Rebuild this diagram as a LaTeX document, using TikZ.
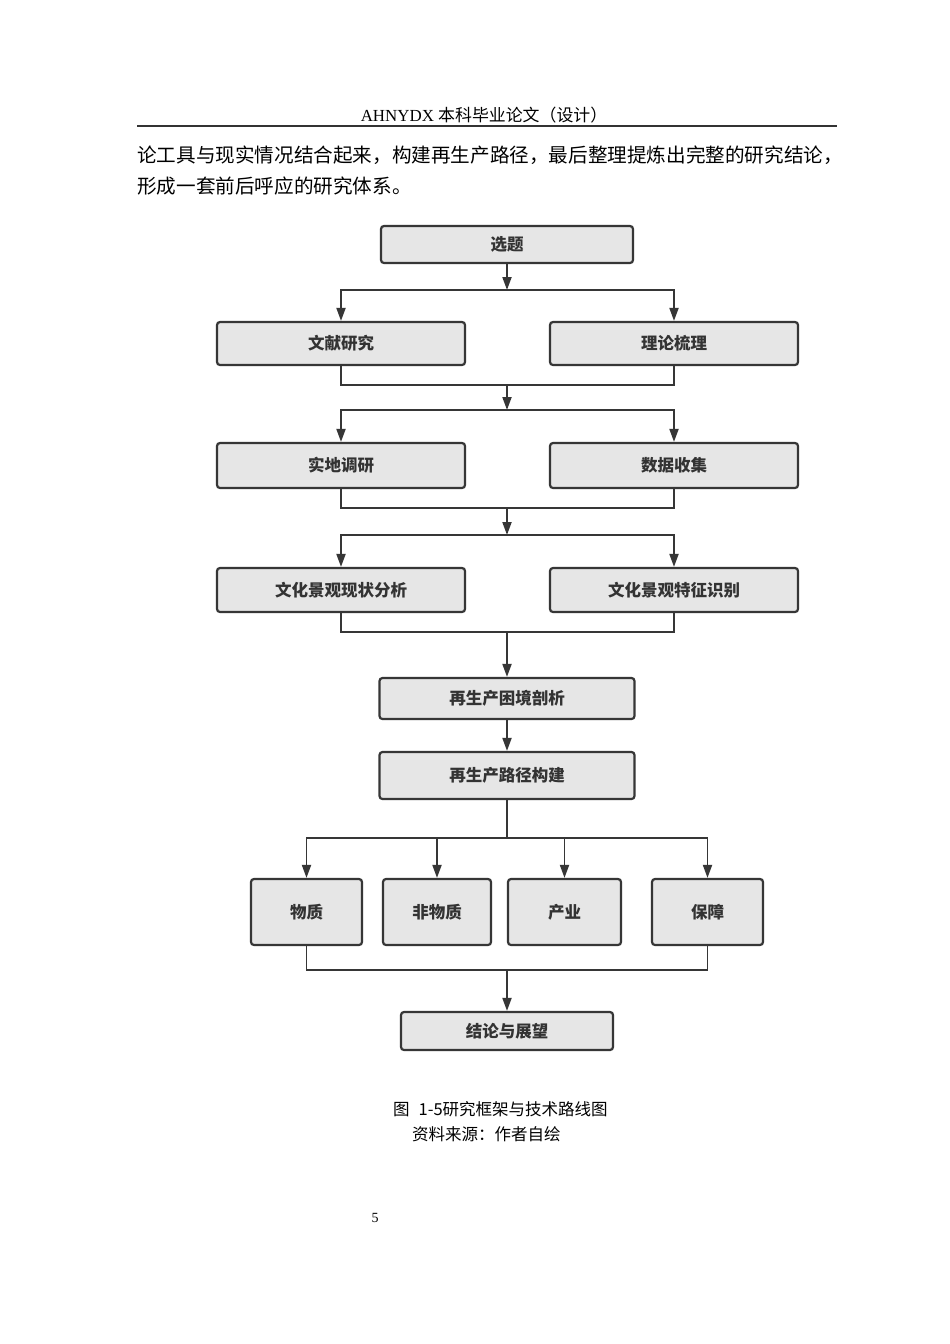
\documentclass[tikz,border=0pt]{standalone}
\usepackage{fontspec}
\setmainfont{Liberation Serif}
\newfontfamily\cjk{Noto Sans CJK SC}
\usepackage{xcolor}
\usetikzlibrary{arrows.meta,positioning,calc}
\definecolor{boxfill}{HTML}{E6E6E6}
\definecolor{boxline}{HTML}{363636}
\definecolor{txtgray}{HTML}{333333}
\tikzset{
  flowbox/.style={draw=boxline, line width=2.2pt, fill=boxfill, rounded corners=3pt,
    inner sep=0pt, text=txtgray, font=\cjk\bfseries\fontsize{16.5}{18}\selectfont},
  link/.style={draw=boxline, line width=1.9pt},
  arr/.style={link, -{Triangle[length=13pt,width=9pt]}}
}

\begin{document}
\begin{tikzpicture}[x=1pt,y=-1pt]
    \useasboundingbox[fill=white] (0,0) rectangle (950,1344);
    % page header and text
    \node[anchor=base] (header) at (484,121) {\fontsize{16.9}{18}\selectfont AHNYDX {\cjk 本科毕业论文（设计）}};
    \draw[line width=1.5pt, black!80] (137,126) -- (837,126);
    \node[anchor=base west, inner sep=0pt] (line1) at (137,162) {\cjk\fontsize{19.6}{21}\selectfont 论工具与现实情况结合起来，构建再生产路径，最后整理提炼出完整的研究结论，};
    \node[anchor=base west, inner sep=0pt] (line2) at (137,193) {\cjk\fontsize{19.6}{21}\selectfont 形成一套前后呼应的研究体系。};

    % boxes
    \node[flowbox, minimum width=252pt, minimum height=37pt] (xuanti) at (507,244.5) {选题};
    \node[flowbox, minimum width=248pt, minimum height=43pt] (wenxian) at (341,343.5) {文献研究};
    \node[flowbox, minimum width=248pt, minimum height=43pt] (lilun) at (674,343.5) {理论梳理};
    \node[flowbox, minimum width=248pt, minimum height=45pt] (shidi) at (341,465.5) {实地调研};
    \node[flowbox, minimum width=248pt, minimum height=45pt] (shuju) at (674,465.5) {数据收集};
    \node[flowbox, minimum width=248pt, minimum height=44pt] (xianzhuang) at (341,590) {文化景观现状分析};
    \node[flowbox, minimum width=248pt, minimum height=44pt] (tezheng) at (674,590) {文化景观特征识别};
    \node[flowbox, minimum width=255pt, minimum height=41pt] (kunjing) at (507,698.5) {再生产困境剖析};
    \node[flowbox, minimum width=255pt, minimum height=47pt] (lujing) at (507,775.5) {再生产路径构建};
    \node[flowbox, minimum width=111pt, minimum height=66pt] (wuzhi) at (306.5,912) {物质};
    \node[flowbox, minimum width=108pt, minimum height=66pt] (feiwuzhi) at (437,912) {非物质};
    \node[flowbox, minimum width=113pt, minimum height=66pt] (chanye) at (564.5,912) {产业};
    \node[flowbox, minimum width=111pt, minimum height=66pt] (baozhang) at (707.5,912) {保障};
    \node[flowbox, minimum width=212pt, minimum height=38pt] (jielun) at (507,1031) {结论与展望};

    % junctions
    \coordinate (j1) at (507,290);
    \coordinate (m1) at (507,385);
    \coordinate (j2) at (507,410);
    \coordinate (m2) at (507,508);
    \coordinate (j3) at (507,535);
    \coordinate (m3) at (507,632);
    \coordinate (j4) at (507,838);
    \coordinate (m4) at (507,970);

    % connectors
    \draw[arr] (xuanti) -- (j1);
    \draw[arr] (j1) -| (wenxian);
    \draw[arr] (j1) -| (lilun);
    \draw[link] (wenxian) |- (m1) -| (lilun);
    \draw[arr] (m1) -- (j2);
    \draw[arr] (j2) -| (shidi);
    \draw[arr] (j2) -| (shuju);
    \draw[link] (shidi) |- (m2) -| (shuju);
    \draw[arr] (m2) -- (j3);
    \draw[arr] (j3) -| (xianzhuang);
    \draw[arr] (j3) -| (tezheng);
    \draw[link] (xianzhuang) |- (m3) -| (tezheng);
    \draw[arr] (m3) -- (kunjing);
    \draw[arr] (kunjing) -- (lujing);
    \draw[link] (lujing) -- (j4);
    \foreach \n in {wuzhi,feiwuzhi,chanye,baozhang}
        \draw[arr] (j4) -| (\n);
    \draw[link] (wuzhi) |- (m4) -| (baozhang);
    \draw[arr] (m4) -- (jielun);

    % caption
    \node[anchor=base west, inner sep=0pt] (caption) at (393,1115) {\cjk\fontsize{16.5}{18}\selectfont 图\hspace{9pt}1-5研究框架与技术路线图};
    \node[anchor=base west, inner sep=0pt] (source) at (412,1140) {\cjk\fontsize{16.5}{18}\selectfont 资料来源：作者自绘};
    \node[anchor=base] (pagenum) at (375,1222) {\fontsize{14}{16}\selectfont 5};
\end{tikzpicture}
\end{document}
